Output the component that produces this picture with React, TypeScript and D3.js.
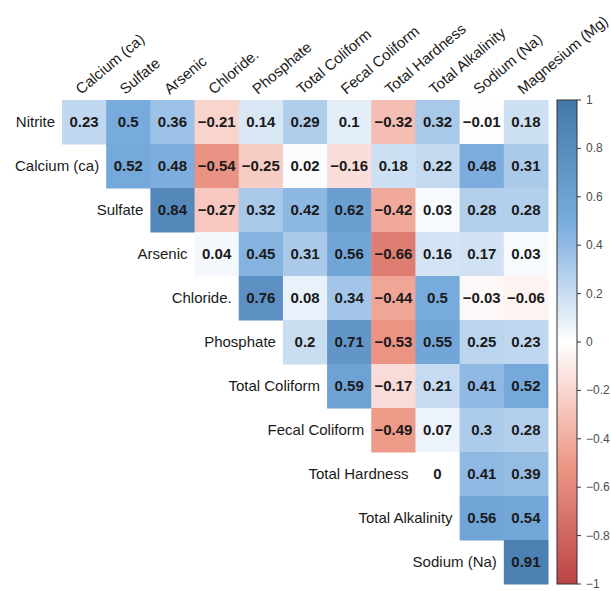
import React, { useEffect, useRef } from 'react'
import * as d3 from 'd3'

const rowNames = ['Nitrite', 'Calcium (ca)', 'Sulfate', 'Arsenic', 'Chloride.', 'Phosphate',
  'Total Coliform', 'Fecal Coliform', 'Total Hardness', 'Total Alkalinity', 'Sodium (Na)']
const colNames = ['Calcium (ca)', 'Sulfate', 'Arsenic', 'Chloride.', 'Phosphate', 'Total Coliform',
  'Fecal Coliform', 'Total Hardness', 'Total Alkalinity', 'Sodium (Na)', 'Magnesium (Mg)']

// row i starts at column i
const values = [
  [0.23, 0.5, 0.36, -0.21, 0.14, 0.29, 0.1, -0.32, 0.32, -0.01, 0.18],
  [0.52, 0.48, -0.54, -0.25, 0.02, -0.16, 0.18, 0.22, 0.48, 0.31],
  [0.84, -0.27, 0.32, 0.42, 0.62, -0.42, 0.03, 0.28, 0.28],
  [0.04, 0.45, 0.31, 0.56, -0.66, 0.16, 0.17, 0.03],
  [0.76, 0.08, 0.34, -0.44, 0.5, -0.03, -0.06],
  [0.2, 0.71, -0.53, 0.55, 0.25, 0.23],
  [0.59, -0.17, 0.21, 0.41, 0.52],
  [-0.49, 0.07, 0.3, 0.28],
  [0, 0.41, 0.39],
  [0.56, 0.54],
  [0.91],
]

const legendTicks = [1, 0.8, 0.6, 0.4, 0.2, 0, -0.2, -0.4, -0.6, -0.8, -1]
const paletteStops = [-1, -0.5, 0, 0.5, 1]
const paletteColors = ['#BB4444', '#EE9988', '#FFFFFF', '#77AADD', '#4477AA']

const W = 611
const H = 591
const gridLeft = 62
const gridTop = 100
const gridRight = 548
const gridBottom = 584

export default function App() {
  const ref = useRef(null)

  useEffect(() => {
    document.body.style.margin = '0'
    const svg = d3.select(ref.current)
    svg.selectAll('*').remove()

    const font = '"Liberation Sans", Arial, Helvetica, sans-serif'

    const x = d3.scaleBand().domain(colNames).range([gridLeft, gridRight])
    const y = d3.scaleBand().domain(rowNames).range([gridTop, gridBottom])

    const color = d3.scaleLinear<string>()
      .domain(paletteStops)
      .range(paletteColors)
      .interpolate(d3.interpolateRgb)

    const fmt = d3.format('.2~f')

    const cells = []
    values.forEach((row, i) => {
      row.forEach((v, k) => {
        cells.push({ r: rowNames[i], c: colNames[i + k], v })
      })
    })

    const g = svg.append('g')
    g.selectAll('rect.cell')
      .data(cells)
      .enter().append('rect')
      .attr('class', 'cell')
      .attr('x', d => x(d.c))
      .attr('y', d => y(d.r))
      .attr('width', x.bandwidth() + 0.5)
      .attr('height', y.bandwidth() + 0.5)
      .attr('fill', d => color(d.v))

    g.selectAll('text.val')
      .data(cells)
      .enter().append('text')
      .attr('class', 'val')
      .attr('x', d => x(d.c) + x.bandwidth() / 2)
      .attr('y', d => y(d.r) + y.bandwidth() / 2)
      .attr('dy', '0.36em')
      .attr('text-anchor', 'middle')
      .style('font-family', font)
      .style('font-size', '15px')
      .style('font-weight', 'bold')
      .style('fill', '#1a1a1a')
      .text(d => fmt(d.v))

    // row labels, left of the first cell of each row
    g.selectAll('text.rowlab')
      .data(rowNames)
      .enter().append('text')
      .attr('class', 'rowlab')
      .attr('x', (d, i) => x(colNames[i]) - 7)
      .attr('y', d => y(d) + y.bandwidth() / 2)
      .attr('dy', '0.36em')
      .attr('text-anchor', 'end')
      .style('font-family', font)
      .style('font-size', '15px')
      .style('fill', '#1a1a1a')
      .text(d => d)

    // column labels, rotated
    g.selectAll('text.collab')
      .data(colNames)
      .enter().append('text')
      .attr('class', 'collab')
      .attr('transform', d => `translate(${x(d) + x.bandwidth() / 2 - 3},${gridTop - 5}) rotate(-40)`)
      .attr('text-anchor', 'start')
      .style('font-family', font)
      .style('font-size', '15px')
      .style('fill', '#1a1a1a')
      .text(d => d)

    // colour bar
    const lx = 557
    const lw = 20
    const ly = d3.scaleLinear().domain([1, -1]).range([gridTop, gridBottom])

    const grad = svg.append('defs').append('linearGradient')
      .attr('id', 'cbar')
      .attr('x1', '0%').attr('x2', '0%')
      .attr('y1', '0%').attr('y2', '100%')
    paletteStops.slice().reverse().forEach(t => {
      grad.append('stop')
        .attr('offset', ((1 - t) / 2 * 100) + '%')
        .attr('stop-color', color(t))
    })

    svg.append('rect')
      .attr('x', lx)
      .attr('y', ly(1))
      .attr('width', lw)
      .attr('height', ly(-1) - ly(1))
      .attr('fill', 'url(#cbar)')
      .attr('stroke', '#333')
      .attr('stroke-width', 1)

    const leg = svg.append('g')
    leg.selectAll('line')
      .data(legendTicks)
      .enter().append('line')
      .attr('x1', lx + lw)
      .attr('x2', lx + lw + 4)
      .attr('y1', d => ly(d))
      .attr('y2', d => ly(d))
      .attr('stroke', '#333')
    leg.selectAll('text')
      .data(legendTicks)
      .enter().append('text')
      .attr('x', lx + lw + 9)
      .attr('y', d => ly(d))
      .attr('dy', '0.34em')
      .style('font-family', font)
      .style('font-size', '12px')
      .style('fill', '#4d4d4d')
      .text(d => fmt(d))
  }, [])

  return <svg ref={ref} width={W} height={H} style={{ display: 'block', background: '#fff' }} />
}
